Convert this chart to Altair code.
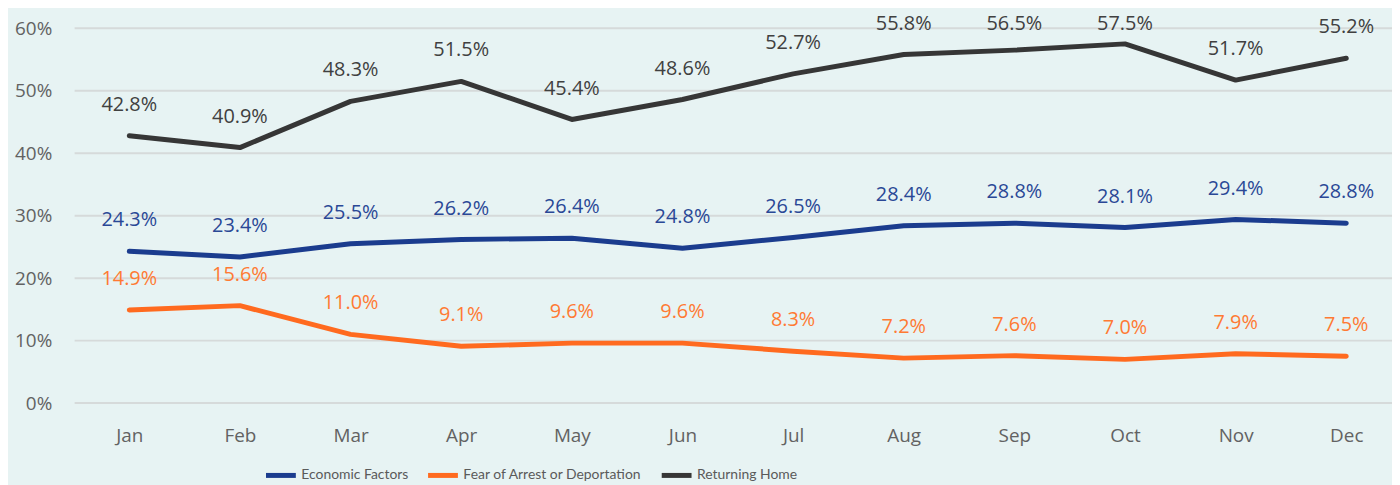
import altair as alt
import pandas as pd

months = ["Jan", "Feb", "Mar", "Apr", "May", "Jun", "Jul", "Aug", "Sep", "Oct", "Nov", "Dec"]
series = ["Economic Factors", "Fear of Arrest or Deportation", "Returning Home"]
economic = [24.3, 23.4, 25.5, 26.2, 26.4, 24.8, 26.5, 28.4, 28.8, 28.1, 29.4, 28.8]
fear = [14.9, 15.6, 11.0, 9.1, 9.6, 9.6, 8.3, 7.2, 7.6, 7.0, 7.9, 7.5]
returning = [42.8, 40.9, 48.3, 51.5, 45.4, 48.6, 52.7, 55.8, 56.5, 57.5, 51.7, 55.2]
y_ticks = [0, 0.1, 0.2, 0.3, 0.4, 0.5, 0.6]

line_colors = ["#1B3C8E", "#FF6A1F", "#363636"]
label_colors = ["#2A4896", "#FF7A33", "#404040"]

rows = []
for name, vals in zip(series, [economic, fear, returning]):
    for m, v in zip(months, vals):
        rows.append({"month": m, "series": name, "value": v / 100, "label": f"{v:.1f}%"})
df = pd.DataFrame(rows)
grid_df = pd.DataFrame({"tick": y_ticks})

FONT = "Open Sans"
W, H = 1325, 377

x = alt.X("month:N", sort=months, title=None,
          scale=alt.Scale(type="point", padding=0, range=[55, 1279]),
          axis=alt.Axis(labelAngle=0, labelFont=FONT, labelFontSize=19, labelColor="#626262",
                        labelPadding=24, ticks=False, domain=False, grid=False))
y_axis = alt.Axis(format=".0%", values=y_ticks,
                  labelFont=FONT, labelFontSize=19, labelColor="#626262",
                  labelPadding=23, ticks=False, domain=False, grid=False)
y_scale = alt.Scale(domain=[0, 0.6], nice=False, zero=True)

grid = alt.Chart(grid_df).mark_rule(color="#D6DADA", strokeWidth=2).encode(
    y=alt.Y("tick:Q", scale=y_scale, axis=y_axis, title=None),
    x=alt.value(0), x2=alt.value(W),
)

lines = alt.Chart(df).mark_line(strokeWidth=5, strokeJoin="round", strokeCap="round").encode(
    x=x,
    y=alt.Y("value:Q", title=None, scale=y_scale, axis=y_axis),
    color=alt.Color("series:N", sort=series,
                    scale=alt.Scale(domain=series, range=line_colors),
                    legend=alt.Legend(title=None, orient="none", legendX=190, legendY=432,
                                      direction="horizontal", symbolType="stroke",
                                      symbolStrokeWidth=5, symbolSize=900,
                                      labelFont="Lato", labelFontSize=14, labelLimit=400,
                                      labelColor="#5A5A5A", labelOffset=3, columnPadding=9,
                                      symbolOffset=0)),
)

# labels sit a fixed distance above each point, kept inside the top of the chart
labels = alt.Chart(df).transform_calculate(
    labelPos="min(datum.value + 0.0494, 0.607)"
).mark_text(font=FONT, fontSize=20, baseline="middle").encode(
    x=x,
    y=alt.Y("labelPos:Q", scale=y_scale, axis=y_axis, title=None),
    text="label:N",
    color=alt.Color("series:N", scale=alt.Scale(domain=series, range=label_colors), legend=None),
)

chart = alt.layer(grid, lines, labels).resolve_scale(color="independent").properties(
    width=W, height=H,
    autosize=alt.AutoSizeParams(type="none"),
    padding={"left": 67, "top": 19, "right": 0, "bottom": 81},
    background="#E7F3F3",
).configure_view(stroke=None)

chart.save("out.html", embed_options={"renderer": "svg", "actions": False})
